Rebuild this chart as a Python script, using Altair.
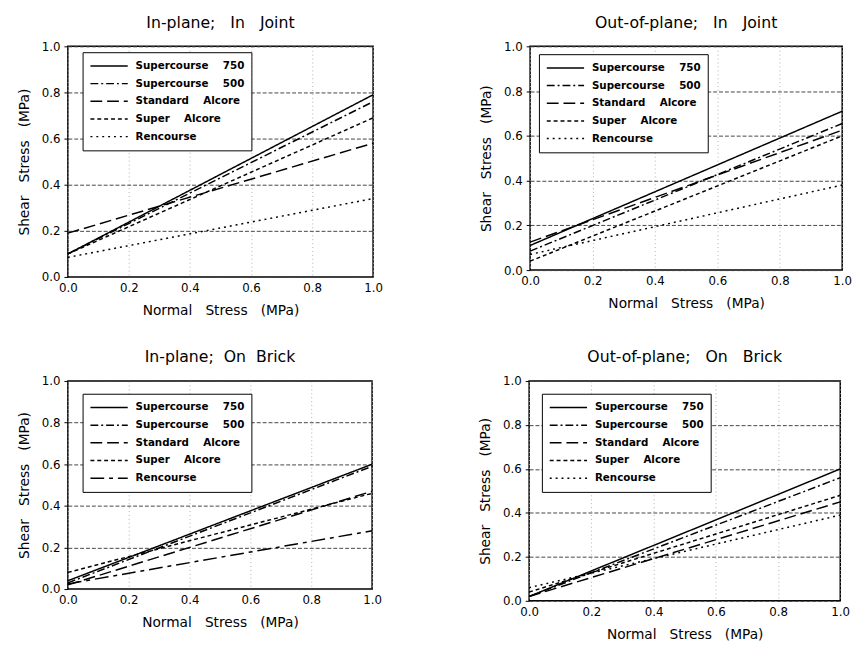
import altair as alt
import pandas as pd

NB = "\u00a0"
series = [
    "Supercourse" + NB * 4 + "750",
    "Supercourse" + NB * 4 + "500",
    "Standard" + NB * 4 + "Alcore",
    "Super" + NB * 4 + "Alcore",
    "Rencourse",
]
x_vals = [0.0, 1.0]

titles = [
    "In-plane;" + NB * 3 + "In" + NB * 3 + "Joint",
    "Out-of-plane;" + NB * 3 + "In" + NB * 3 + "Joint",
    "In-plane;" + NB * 2 + "On" + NB * 2 + "Brick",
    "Out-of-plane;" + NB * 3 + "On" + NB * 3 + "Brick",
]

# shear stress at normal stress 0.0 and 1.0, per series
p1_start = [0.10, 0.10, 0.19, 0.10, 0.085]
p1_end = [0.79, 0.76, 0.58, 0.69, 0.34]
p2_start = [0.11, 0.085, 0.125, 0.04, 0.07]
p2_end = [0.71, 0.655, 0.625, 0.60, 0.38]
p3_start = [0.04, 0.03, 0.02, 0.08, 0.025]
p3_end = [0.60, 0.59, 0.47, 0.46, 0.28]
p4_start = [0.02, 0.02, 0.02, 0.04, 0.06]
p4_end = [0.60, 0.56, 0.45, 0.48, 0.39]

ticks = [0.0, 0.2, 0.4, 0.6, 0.8, 1.0]

dash_std = [[1, 0], [8, 3, 2, 3], [12, 5], [4, 3], [2, 4]]
dash_brick = [[1, 0], [8, 3, 2, 3], [12, 5], [4, 3], [14, 5, 4, 5]]

panels = [
    (titles[0], p1_start, p1_end, dash_std, 311, 235, 15, 6),
    (titles[1], p2_start, p2_end, dash_std, 318, 228, 9, 8),
    (titles[2], p3_start, p3_end, dash_brick, 310, 212, 15, 13),
    (titles[3], p4_start, p4_end, dash_std, 317, 224, 13, 13),
]


def make_panel(title, starts, ends, dashes, w, h, lx, ly):
    rows = []
    for s, a, b in zip(series, starts, ends):
        rows.append({"series": s, "x": x_vals[0], "y": a})
        rows.append({"series": s, "x": x_vals[1], "y": b})
    df = pd.DataFrame(rows)
    return (
        alt.Chart(df, title=title)
        .mark_line(color="black", strokeWidth=1.5)
        .encode(
            x=alt.X(
                "x:Q",
                scale=alt.Scale(domain=[0, 1], nice=False),
                axis=alt.Axis(
                    values=ticks,
                    format=".1f",
                    title="Normal" + NB * 3 + "Stress" + NB * 3 + "(MPa)",
                    gridColor="#b0b0b0",
                    gridDash=[1, 3],
                    ticks=False,
                    labelFlush=False,
                    labelPadding=6,
                    titlePadding=10,
                ),
            ),
            y=alt.Y(
                "y:Q",
                scale=alt.Scale(domain=[0, 1], nice=False),
                axis=alt.Axis(
                    values=ticks,
                    format=".1f",
                    title="Shear" + NB * 3 + "Stress" + NB * 3 + "(MPa)",
                    gridColor="#444444",
                    gridDash=[4, 2],
                    tickSize=4,
                    tickColor="black",
                    labelFlush=False,
                    labelPadding=4,
                    titlePadding=10,
                ),
            ),
            strokeDash=alt.StrokeDash(
                "series:N",
                scale=alt.Scale(domain=series, range=dashes),
                legend=alt.Legend(
                    title=None,
                    orient="none",
                    legendX=lx,
                    legendY=ly,
                    symbolType="stroke",
                    symbolSize=1444,
                    symbolStrokeWidth=1.5,
                    symbolStrokeColor="black",
                    clipHeight=14,
                    rowPadding=4,
                    labelOffset=7,
                    labelFont="DejaVu Sans",
                    labelFontWeight="bold",
                    labelFontSize=10.5,
                    labelColor="black",
                    labelLimit=300,
                    fillColor="white",
                    strokeColor="black",
                    padding=7,
                ),
            ),
            order=alt.Order("x:Q"),
        )
        .properties(width=w, height=h)
    )


charts = [make_panel(*p) for p in panels]

top = alt.hconcat(charts[0], charts[1], spacing=97).resolve_scale(strokeDash="independent").resolve_legend(strokeDash="independent")
bottom = alt.hconcat(charts[2], charts[3], spacing=97).resolve_scale(strokeDash="independent").resolve_legend(strokeDash="independent")

chart = (
    alt.vconcat(top, bottom, spacing=31)
    .resolve_scale(strokeDash="independent")
    .resolve_legend(strokeDash="independent")
    .properties(padding={"left": 9, "top": 0, "right": 0, "bottom": 0})
    .configure(background="white")
    .configure_view(stroke="black", strokeWidth=1.5)
    .configure_axis(
        labelFont="DejaVu Sans",
        labelFontSize=12,
        labelColor="black",
        titleFont="DejaVu Sans",
        titleFontSize=14,
        titleFontWeight="normal",
        titleColor="black",
        domain=False,
        gridOpacity=1,
    )
    .configure_title(font="DejaVu Sans", fontSize=16, fontWeight="normal", color="black", offset=10)
)

chart.save("out.html", embed_options={"renderer": "svg", "actions": False})
